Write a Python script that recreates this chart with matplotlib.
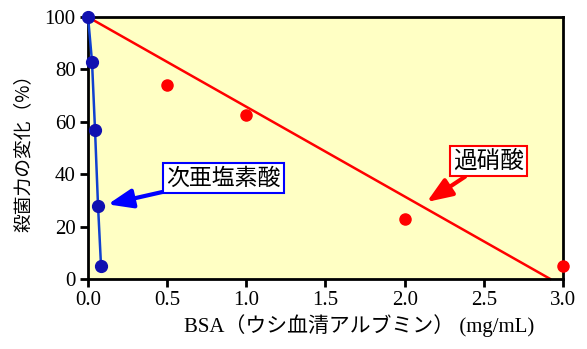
import matplotlib.pyplot as plt

# 次亜塩素酸 (blue)
hypo_x = [0.0, 0.025, 0.044, 0.063, 0.082]
hypo_y = [100, 83, 57, 28, 5]

# 過硝酸 (red)
per_x = [0.5, 1.0, 2.0, 3.0]
per_y = [74, 62.5, 23, 5]
# 回帰直線
per_fit_x = [0.0, 2.92]
per_fit_y = [100, 0]

xticks = [0.0, 0.5, 1.0, 1.5, 2.0, 2.5, 3.0]
yticks = [0, 20, 40, 60, 80, 100]

serif = ['Liberation Serif', 'Noto Sans CJK JP']
gothic = ['Noto Sans CJK JP', 'DejaVu Sans']

fig = plt.figure(figsize=(5.87, 3.49), dpi=100)
ax = fig.add_axes([0.150, 0.2006, 0.809, 0.7504])
ax.set_facecolor('#FFFFC4')

ax.plot(per_fit_x, per_fit_y, color='#FF0000', lw=1.8, clip_on=False, zorder=2)
ax.plot(per_x, per_y, 'o', color='#FF0000', ms=8, clip_on=False, zorder=3)
ax.plot(hypo_x, hypo_y, '-', color='#1040D0', lw=1.8, clip_on=False, zorder=4)
ax.plot(hypo_x, hypo_y, 'o', color='#1010B0', ms=8.5, clip_on=False, zorder=5)

ax.set_xlim(0, 3.0)
ax.set_ylim(0, 100)
ax.set_xticks(xticks)
ax.set_xticklabels(['%.1f' % v for v in xticks])
ax.set_yticks(yticks)
for lbl in ax.get_xticklabels() + ax.get_yticklabels():
    lbl.set_family(serif)
    lbl.set_fontsize(15)
ax.tick_params(direction='out', length=6, width=2, pad=3)
for s in ax.spines.values():
    s.set_linewidth(2)

ax.set_xlabel('BSA（ウシ血清アルブミン） (mg/mL)', family=serif, fontsize=15, x=0.57, labelpad=3)
ax.set_ylabel('殺菌力の変化（%）', family=gothic, fontsize=13.5, labelpad=8)

ax.annotate('次亜塩素酸', xy=(0.125, 28.5), xytext=(0.855, 38.5),
            ha='center', va='center', family=gothic, fontsize=16.5,
            bbox=dict(boxstyle='square,pad=0.14', fc='white', ec='#0000FF', lw=1.5),
            arrowprops=dict(arrowstyle='-|>,head_length=0.9,head_width=0.35',
                            color='#0000FF', lw=3, shrinkA=0, shrinkB=0))
ax.annotate('過硝酸', xy=(2.14, 29.4), xytext=(2.53, 45),
            ha='center', va='center', family=gothic, fontsize=17,
            bbox=dict(boxstyle='square,pad=0.14', fc='white', ec='#FF0000', lw=1.5),
            arrowprops=dict(arrowstyle='-|>,head_length=0.9,head_width=0.35',
                            color='#FF0000', lw=3, shrinkA=0, shrinkB=0))

plt.savefig('out.png', dpi=100)
